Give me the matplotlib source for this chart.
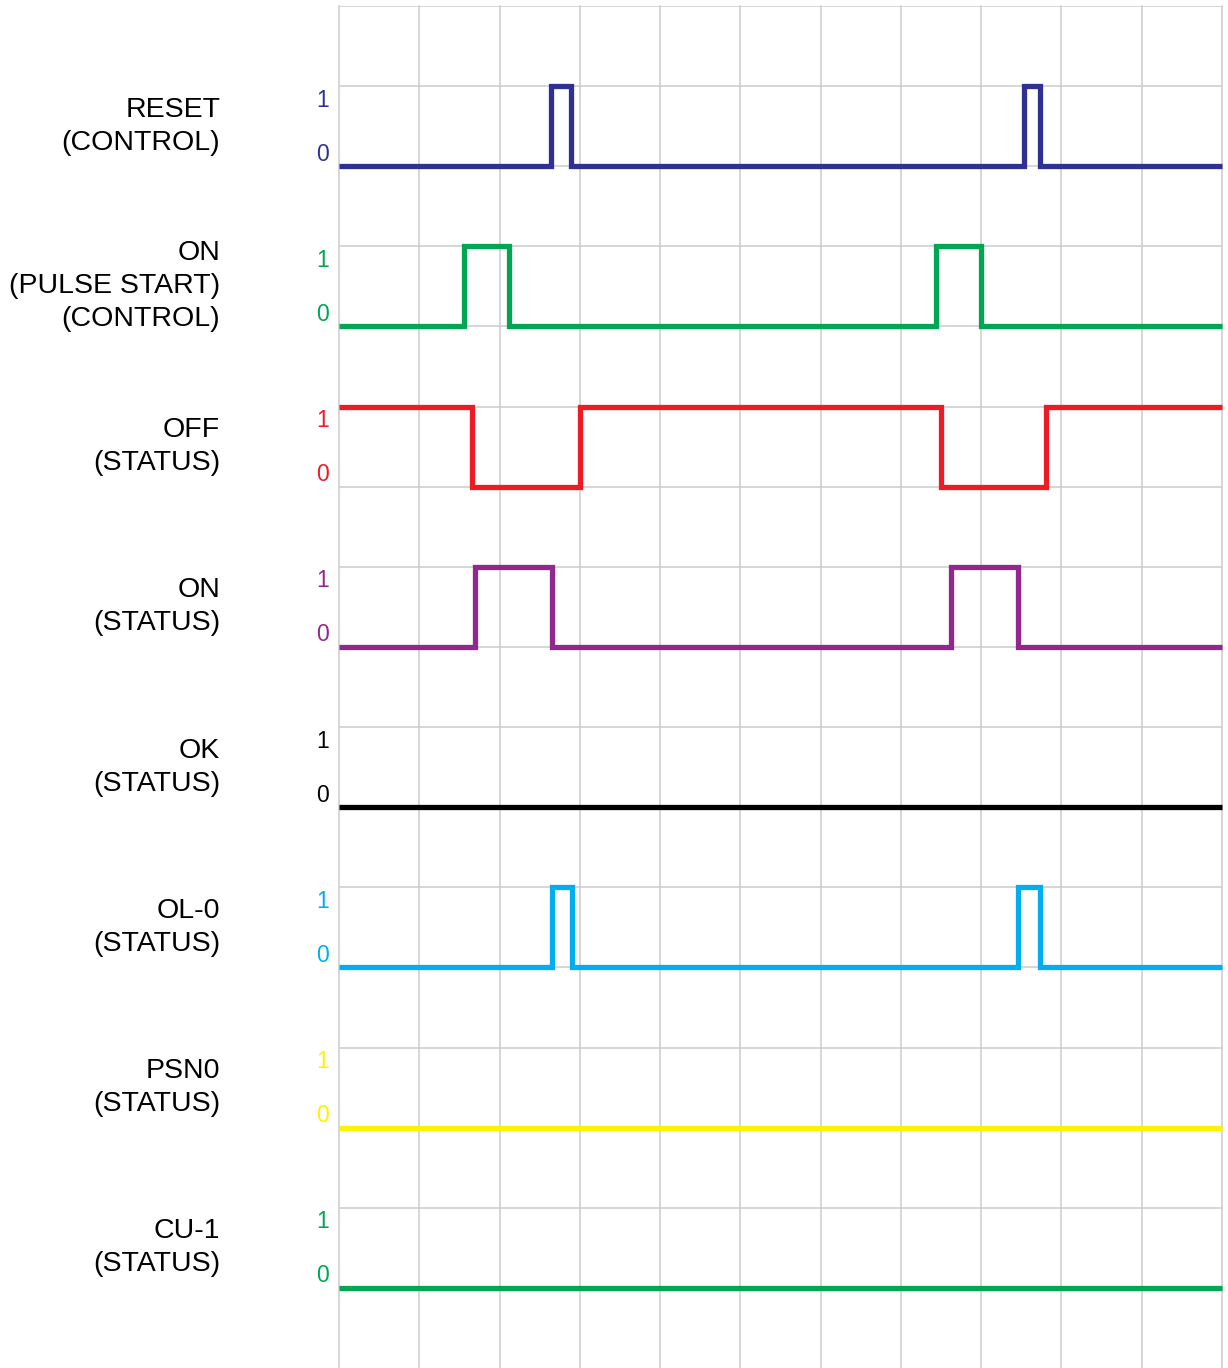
import matplotlib.pyplot as plt

plt.rcParams["font.family"] = ["Liberation Sans", "DejaVu Sans"]

# signal names (top to bottom)
names = ["RESET\n(CONTROL)", "ON\n(PULSE START)\n(CONTROL)", "OFF\n(STATUS)", "ON\n(STATUS)",
         "OK\n(STATUS)", "OL-0\n(STATUS)", "PSN0\n(STATUS)", "CU-1\n(STATUS)"]
colors = ["#2E3192", "#00A651", "#ED1C24", "#92278F", "#000000", "#00AEEF", "#FFF200", "#00A651"]

# level at the start and the times (in grid units) where the level toggles
start_level = [0, 0, 1, 0, 0, 0, 0, 0]
edges = [
    [2.64, 2.89, 8.53, 8.73],
    [1.56, 2.12, 7.44, 8.0],
    [1.66, 3.0, 7.50, 8.81],
    [1.69, 2.65, 7.62, 8.46],
    [],
    [2.65, 2.90, 8.46, 8.73],
    [],
    [],
]
t_end = 11
n_rows = 17

fig = plt.figure(figsize=(12.28, 13.68), dpi=100)
ax = fig.add_axes([339 / 1228, 0, 883 / 1228, 1362 / 1368])
ax.set_xlim(0, t_end)
ax.set_ylim(n_rows, 0)

# grid
for gx in range(0, t_end + 1):
    ax.axvline(gx, color="#CCCCCC", lw=1.1, zorder=1, clip_on=False)
for gy in range(0, n_rows):
    ax.axhline(gy, color="#CCCCCC", lw=1.1, zorder=1)

for i, name in enumerate(names):
    hi = 1 + 2 * i
    lo = 2 + 2 * i
    xs = [0]
    lv = start_level[i]
    ys = [hi if lv else lo]
    for e in edges[i]:
        xs += [e, e]
        ys += [hi if lv else lo]
        lv = 1 - lv
        ys += [hi if lv else lo]
    xs.append(t_end)
    ys.append(hi if lv else lo)
    ax.plot(xs, ys, color=colors[i], lw=3.8, solid_joinstyle="miter", solid_capstyle="butt",
            zorder=3, clip_on=False)
    ax.text(-0.2, hi + 0.175, "1", color=colors[i], fontsize=16.5, ha="center", va="center", clip_on=False)
    ax.text(-0.2, lo - 0.15, "0", color=colors[i], fontsize=16.5, ha="center", va="center", clip_on=False)
    ax.text(-1.48, (hi + lo) / 2, name, fontsize=20.5, ha="right", va="center",
            multialignment="right", linespacing=1.35, clip_on=False)

ax.set_axis_off()
fig.savefig("out.png", dpi=100)
